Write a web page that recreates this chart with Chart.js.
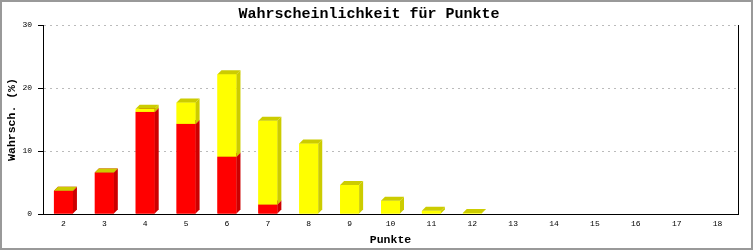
<!DOCTYPE html>
<html>
<head>
<meta charset="utf-8">
<script src="https://cdn.jsdelivr.net/npm/chart.js@4/dist/chart.umd.min.js"></script>
<style>
  body { margin: 0; background: #fff; }
  canvas { display: block; }
</style>
</head>
<body>
<canvas id="chart" width="753" height="250"></canvas>
<script>
const punkte = ['2', '3', '4', '5', '6', '7', '8', '9', '10', '11', '12', '13', '14', '15', '16', '17', '18'];
const rotWerte = [3.7, 6.6, 16.2, 14.3, 9.1, 1.5, 0, 0, 0, 0, 0, 0, 0, 0, 0, 0, 0];
const gelbWerte = [0, 0, 0.5, 3.4, 13.1, 13.3, 11.2, 4.6, 2.1, 0.5, 0.15, 0, 0, 0, 0, 0, 0];
const yTicks = [0, 10, 20, 30];

const frontColors = ['#ff0000', '#ffff00'];
const darkColors = ['#cc0000', '#cccc00'];
const mono = "'Liberation Mono', 'DejaVu Sans Mono', monospace";

// chart.js paints the last dataset first, so redo the stacks bottom-up with side and top faces
const depth3d = {
    id: 'depth3d',
    afterDatasetsDraw(chart) {
        const ctx = chart.ctx;
        const sets = chart.data.datasets;
        const last = sets.length - 1;
        const dx = 4, dy = 4;
        chart.data.labels.forEach((lab, i) => {
            const total = sets.reduce((s, ds) => s + ds.data[i], 0);
            if (total === 0) return;
            sets.forEach((ds, di) => {
                const v = ds.data[i];
                if (v === 0 && di !== last) return;
                const bar = chart.getDatasetMeta(di).data[i];
                const { x, y, base, width } = bar.getProps(['x', 'y', 'base', 'width'], true);
                const l = x - width / 2, r = x + width / 2;
                ctx.save();
                if (v > 0) {
                    ctx.fillStyle = frontColors[di];
                    ctx.fillRect(l, y, width, base - y);
                    ctx.fillStyle = darkColors[di];
                    ctx.beginPath();
                    ctx.moveTo(r, base);
                    ctx.lineTo(r, y);
                    ctx.lineTo(r + dx, y - dy);
                    ctx.lineTo(r + dx, base - dy);
                    ctx.closePath();
                    ctx.fill();
                }
                ctx.fillStyle = darkColors[di];
                ctx.beginPath();
                ctx.moveTo(l, y);
                ctx.lineTo(l + dx, y - dy);
                ctx.lineTo(r + dx, y - dy);
                ctx.lineTo(r, y);
                ctx.closePath();
                ctx.fill();
                ctx.restore();
            });
        });
    }
};

const frame = {
    id: 'frame',
    afterDraw(chart) {
        const { ctx, chartArea } = chart;
        ctx.save();
        ctx.strokeStyle = '#000';
        ctx.lineWidth = 1;
        ctx.beginPath();
        ctx.moveTo(Math.round(chartArea.right) + 0.5, chartArea.top);
        ctx.lineTo(Math.round(chartArea.right) + 0.5, chartArea.bottom);
        ctx.stroke();
        ctx.strokeStyle = '#999';
        ctx.lineWidth = 2;
        ctx.strokeRect(1, 1, chart.width - 2, chart.height - 2);
        ctx.restore();
    }
};

new Chart(document.getElementById('chart'), {
    type: 'bar',
    data: {
        labels: punkte,
        datasets: [
            { label: 'rot', data: rotWerte, backgroundColor: frontColors[0], borderWidth: 0, inflateAmount: 0, barThickness: 19 },
            { label: 'gelb', data: gelbWerte, backgroundColor: frontColors[1], borderWidth: 0, inflateAmount: 0, barThickness: 19 }
        ]
    },
    options: {
        responsive: false,
        animation: false,
        layout: { padding: { left: 0, right: 15, top: 0, bottom: 0 } },
        plugins: {
            legend: { display: false },
            title: {
                display: true,
                text: 'Wahrscheinlichkeit für Punkte',
                color: '#000',
                font: { family: mono, size: 15, weight: 'bold', lineHeight: 1.2 },
                padding: { top: 5, bottom: 2 }
            }
        },
        scales: {
            x: {
                stacked: true,
                afterFit: s => { s.height = 36; },
                grid: { display: false, drawTicks: false },
                border: { display: true, color: '#000', width: 1 },
                ticks: { color: '#000', padding: 5, font: { family: mono, size: 8 } },
                title: {
                    display: true,
                    text: 'Punkte',
                    color: '#000',
                    font: { family: mono, size: 11.5, weight: 'bold', lineHeight: 1.2 },
                    padding: { top: 0, bottom: 3 }
                }
            },
            y: {
                stacked: true,
                min: 0,
                max: 30,
                afterFit: s => { s.width = 43; },
                afterBuildTicks: s => { s.ticks = yTicks.map(v => ({ value: v })); },
                grid: {
                    color: '#bbb',
                    tickColor: '#000',
                    tickBorderDash: [],
                    tickLength: 5
                },
                border: { display: true, color: '#000', width: 1, dash: [2, 4] },
                ticks: { color: '#000', padding: 6, font: { family: mono, size: 8 } },
                title: {
                    display: true,
                    text: 'Wahrsch. (%)',
                    color: '#000',
                    font: { family: mono, size: 11.5, weight: 'bold', lineHeight: 1.2 },
                    padding: { top: 5, bottom: 0 }
                }
            }
        }
    },
    plugins: [depth3d, frame]
});
</script>
</body>
</html>
